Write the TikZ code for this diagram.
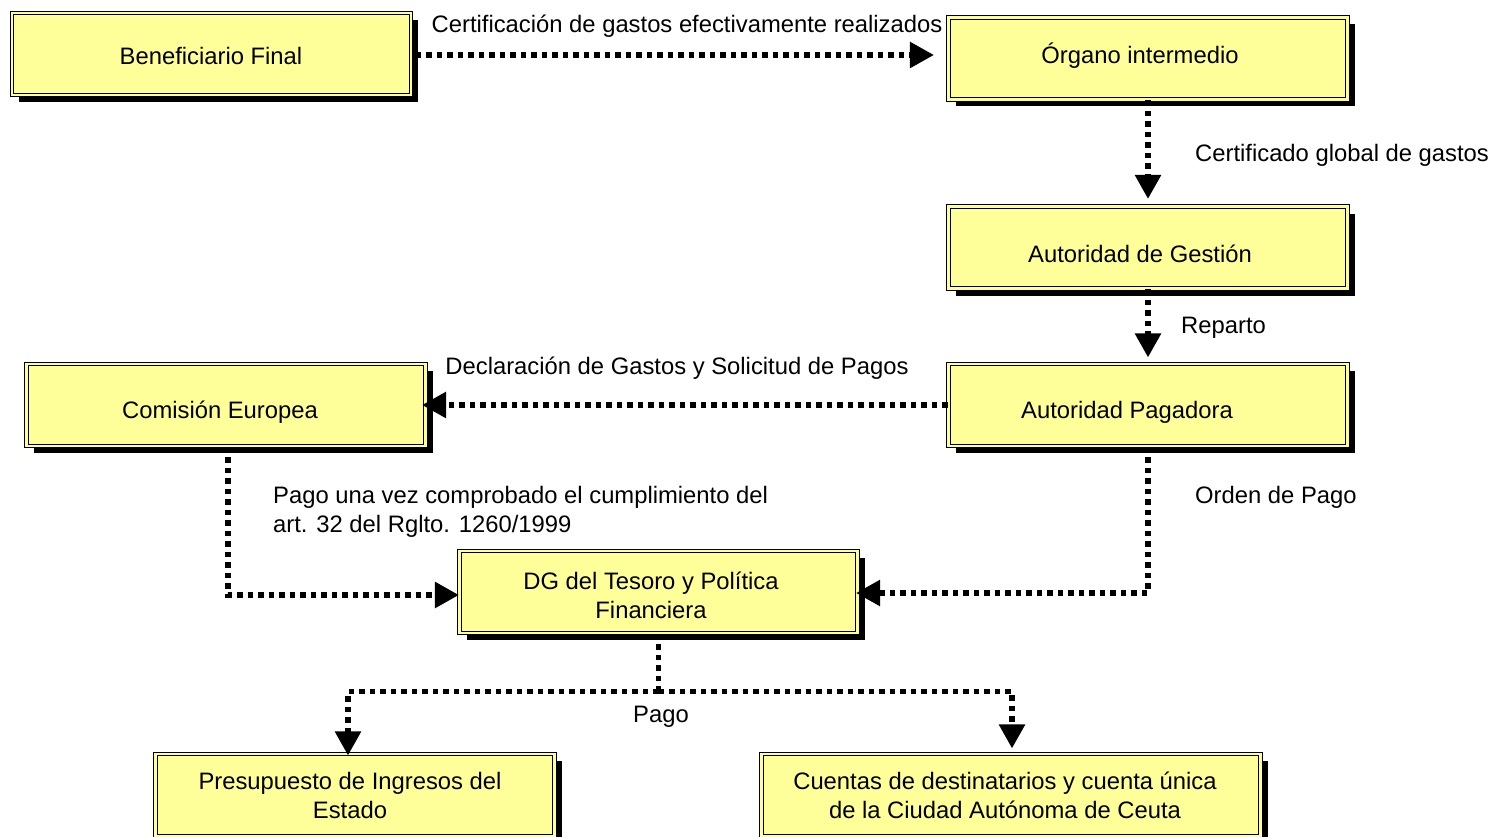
\documentclass[tikz,border=0pt]{standalone}
\usepackage{fontspec}
\setmainfont{Liberation Sans}
\usetikzlibrary{arrows.meta,shadows,calc}
\definecolor{boxy}{HTML}{FFFF99}
\begin{document}
\begin{tikzpicture}[x=1pt,y=-1pt,
  every node/.style={font=\fontsize{23.8}{29}\selectfont, inner sep=0pt},
  box/.style={draw=black, fill=boxy, double=boxy, double distance=2.2pt, line width=1.1pt,
    minimum height=82pt,
    drop shadow={shadow xshift=7pt, shadow yshift=-7pt, fill=black, opacity=1}},
  btxt/.style={align=center, text=black},
  flow/.style={line width=5.5pt, dash pattern=on 5.5pt off 5pt,
    -{Triangle[length=24pt,width=25pt]}},
  lbl/.style={text=black}]
\useasboundingbox (0,0) rectangle (1493,837);
\node[box, minimum width=399pt] (bf) at (211.5,54) {};
\node[box, minimum width=399pt] (oi) at (1148,58.5) {};
\node[box, minimum width=399pt] (ag) at (1148,247.5) {};
\node[box, minimum width=399pt] (ap) at (1148,405) {};
\node[box, minimum width=399pt] (ce) at (226,405) {};
\node[box, minimum width=398pt] (dg) at (658.5,592) {};
\node[box, minimum width=399pt] (pe) at (355,795) {};
\node[box, minimum width=499pt] (cu) at (1011,795) {};

\node[btxt] (bft) at (211,56) {Beneficiario Final};
\node[btxt] (oit) at (1140,56) {Órgano intermedio};
\node[btxt] (agt) at (1140,254) {Autoridad de Gestión};
\node[btxt] (apt) at (1127,412) {Autoridad Pagadora};
\node[btxt] (cet) at (220,412) {Comisión Europea};
\node[btxt] (dgt) at (651,595) {DG del Tesoro y Política\\Financiera};
\node[btxt] (pet) at (350,795) {Presupuesto de Ingresos del\\Estado};
\node[btxt] (cut) at (1005,795) {Cuentas de destinatarios y cuenta única\\de la Ciudad Autónoma de Ceuta};

\draw[flow, shorten >=14pt] ([xshift=4pt]bf.east |- 0,55) -- (oi.west |- 0,55);
\draw[flow, shorten >=7pt] (oi.south) -- (ag.north);
\draw[flow, shorten >=6pt] (ag.south) -- (ap.north);
\draw[flow, shorten >=-4pt] (ap.west) -- (ce.east);
\draw[flow] ([xshift=2pt]ce.south) |- ([yshift=-3pt]dg.west);
\draw[flow, shorten >=-2pt] (ap.south) |- ([yshift=-1pt]dg.east);
\draw[line width=5.5pt, dash pattern=on 5.5pt off 5pt] (dg.south) -- ++(0,58) coordinate (j);
\draw[flow, shorten >=-2pt] (j) -| ([xshift=-7pt]pe.north);
\draw[flow, shorten >=5pt] (j) -| ([xshift=1pt]cu.north);

\node[lbl] (l1) at (687,26) {Certificación de gastos efectivamente realizados};
\node[lbl, anchor=west] (l2) at (1195,155) {Certificado global de gastos};
\node[lbl, anchor=west] (l3) at (1181,328) {Reparto};
\node[lbl] (l4) at (677,368) {Declaración de Gastos y Solicitud de Pagos};
\node[lbl, anchor=west, align=left] (l5) at (273,511.5) {Pago una vez comprobado el cumplimiento del\\art. 32 del Rglto. 1260/1999};
\node[lbl, anchor=west] (l6) at (1195,497) {Orden de Pago};
\node[lbl] (l7) at (661,717) {Pago};
\end{tikzpicture}
\end{document}
